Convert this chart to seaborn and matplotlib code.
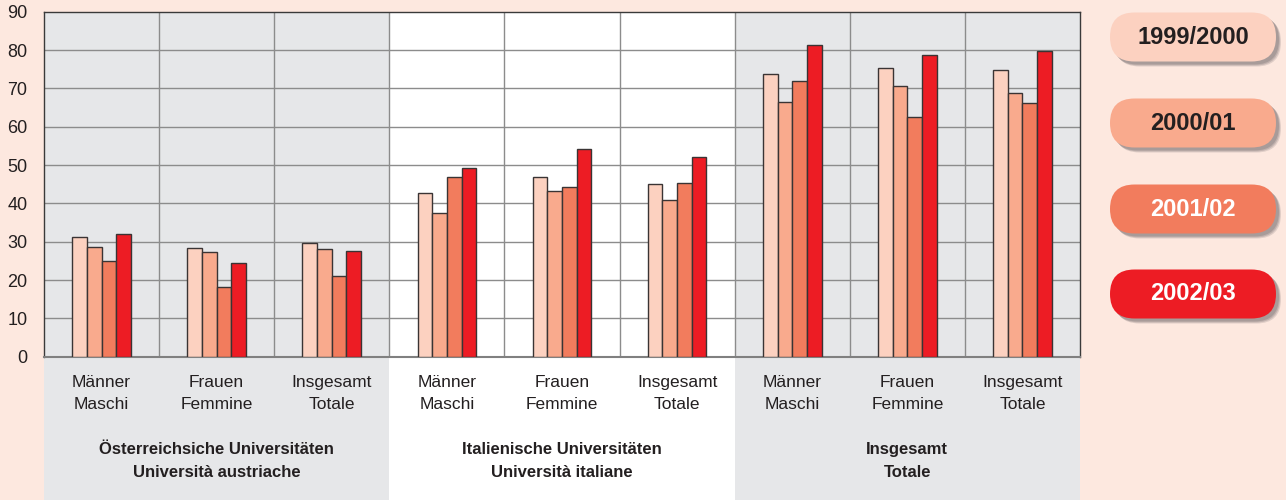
import matplotlib
matplotlib.use("Agg")
import matplotlib.pyplot as plt
from matplotlib.patches import FancyBboxPatch, Rectangle
from matplotlib.transforms import IdentityTransform
import seaborn as sns
import pandas as pd

groups = ["Österreichsiche Universitäten\nUniversità austriache",
          "Italienische Universitäten\nUniversità italiane",
          "Insgesamt\nTotale"]
subcats = ["Männer\nMaschi", "Frauen\nFemmine", "Insgesamt\nTotale"]
years = ["1999/2000", "2000/01", "2001/02", "2002/03"]

v_1999 = [31.1, 28.4, 29.6, 42.6, 47.0, 45.1, 73.7, 75.4, 74.7]
v_2000 = [28.7, 27.3, 28.0, 37.6, 43.1, 40.9, 66.4, 70.5, 68.9]
v_2001 = [24.9, 18.3, 21.0, 46.8, 44.3, 45.3, 71.8, 62.5, 66.3]
v_2002 = [31.9, 24.4, 27.5, 49.3, 54.1, 52.2, 81.3, 78.6, 79.7]

colors = ["#FCD1C0", "#F9AA8D", "#F27C5D", "#ED1C24"]
text_colors = ["#231F20", "#231F20", "white", "white"]
BG = "#FDE8DF"
GRAY = "#E6E7E9"

keys = [f"{g}|{s}" for g in range(3) for s in subcats]
rows = []
for yr, vals in zip(years, [v_1999, v_2000, v_2001, v_2002]):
    for k, v in zip(keys, vals):
        rows.append({"cat": k, "year": yr, "value": v})
df = pd.DataFrame(rows)

sns.set_style("white")
plt.rcParams["font.family"] = ["Liberation Sans", "DejaVu Sans"]

W, H = 1286, 500
fig = plt.figure(figsize=(W / 100, H / 100), dpi=100, facecolor=BG)
x0, x1, ytop, ybot = 44, 1080, 11.7, 356.7
ax = fig.add_axes([x0 / W, (H - ybot) / H, (x1 - x0) / W, (ybot - ytop) / H])
ax.set_facecolor("none")

# column backgrounds (extend below axes to figure bottom)
cw = (x1 - x0) / 3
for i, c in enumerate([GRAY, "white", GRAY]):
    fig.patches.append(Rectangle((x0 + i * cw, 0), cw, H - ytop, transform=IdentityTransform(),
                                 facecolor=c, edgecolor="none", zorder=-10))

sns.barplot(data=df, x="cat", y="value", hue="year", order=keys, hue_order=years,
            palette=colors, width=0.51, edgecolor="#3a3434", linewidth=1.0,
            saturation=1, ax=ax, legend=False, zorder=3)

ax.set_xlim(-0.5, 8.5)
ax.set_ylim(0, 90)
ax.set_yticks(range(0, 91, 10))
ax.set_yticklabels([str(v) for v in range(0, 91, 10)], fontsize=13, color="#231F20")
for yv in range(10, 90, 10):
    ax.axhline(yv, color="#8c8c8c", lw=1.0, zorder=1)
for xv in [0.5, 1.5, 2.5, 3.5, 4.5, 5.5, 6.5, 7.5]:
    ax.axvline(xv, color="#8c8c8c", lw=1.0, zorder=1)

ax.set_xticks(range(9))
ax.set_xticklabels([s for _ in range(3) for s in subcats], fontsize=12.5, color="#231F20",
                   linespacing=1.55)
ax.tick_params(axis="x", length=0, pad=13.5)
ax.tick_params(axis="y", length=0, pad=12)
ax.set_xlabel("")
ax.set_ylabel("")
for sp in ax.spines.values():
    sp.set_color("#3a3a3a")
    sp.set_linewidth(1.0)
ax.spines["bottom"].set_color("#808080")
ax.spines["bottom"].set_linewidth(1.5)

for i, g in enumerate(groups):
    fig.text((x0 + (i + 0.5) * cw) / W, (H - 461) / H, g, ha="center", va="center",
             fontsize=12, fontweight="bold", color="#231F20", linespacing=1.6)

# legend pills
centers = [37, 123, 209, 294]
pw, ph = 166, 49
lx = 1110
for yc, lab, c, tc in zip(centers, years, colors, text_colors):
    yb = H - yc - ph / 2
    for off, a in [(5, 0.25), (4, 0.35), (3, 0.45)]:
        sh = FancyBboxPatch((lx + off, yb - off), pw, ph,
                            boxstyle=f"round,pad=0,rounding_size={ph/2}",
                            transform=IdentityTransform(), facecolor="#8a8080", edgecolor="none",
                            alpha=a, zorder=1)
        fig.patches.append(sh)
    p = FancyBboxPatch((lx, yb), pw, ph, boxstyle=f"round,pad=0,rounding_size={ph/2}",
                       transform=IdentityTransform(), facecolor=c, edgecolor="none", zorder=2)
    fig.patches.append(p)
    fig.text((lx + pw / 2) / W, (H - yc) / H, lab, ha="center", va="center", fontsize=17,
             fontweight="bold", color=tc, zorder=3)

fig.savefig("out.png", dpi=100, facecolor=BG)
